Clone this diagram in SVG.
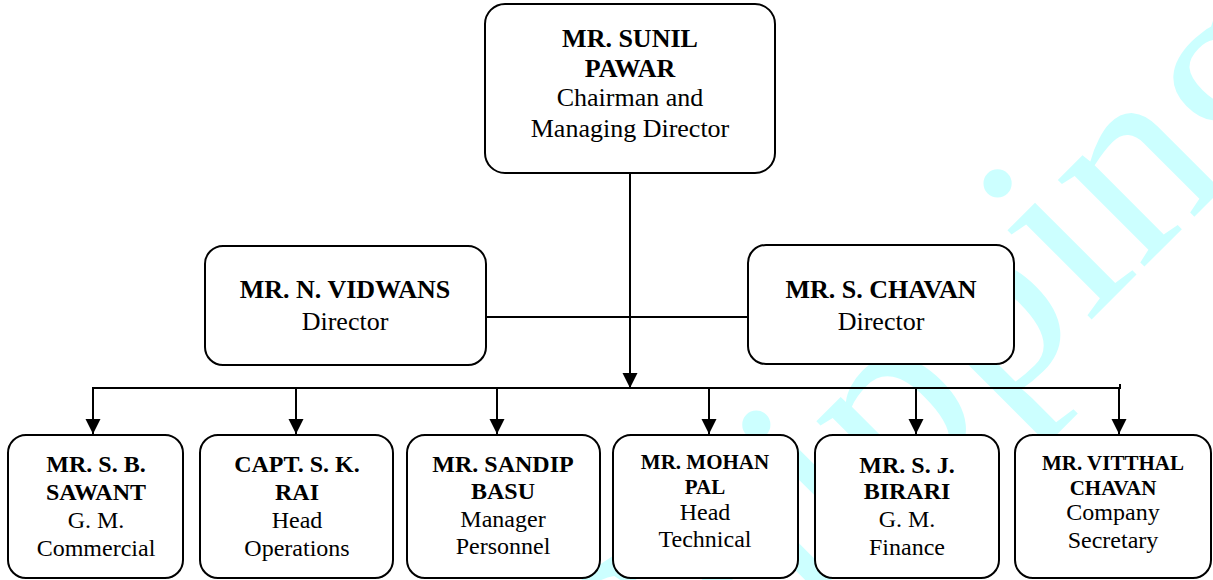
<svg xmlns="http://www.w3.org/2000/svg" width="1213" height="580" viewBox="0 0 1213 580">
<defs>
<marker id="arr" markerUnits="userSpaceOnUse" markerWidth="16" markerHeight="16" viewBox="0 0 16 16" refX="15" refY="8" orient="auto">
<path d="M0,0.5 L15,8 L0,15.5 Z" fill="#000"/>
</marker>
</defs>
<style>
.box{fill:#fff;stroke:#000;stroke-width:2}
.ln{fill:none;stroke:#000;stroke-width:2}
text{font-family:"Liberation Serif","Times New Roman",serif;text-anchor:middle;fill:#000}
.b{font-weight:bold}
.t26{font-size:26px}
.t24{font-size:24px}
.t21{font-size:21px}
.wm{font-family:"Liberation Serif",serif;font-size:267px;fill:#CCFFFF;text-anchor:start}
</style>
<rect width="1213" height="580" fill="#fff"/>
<text class="wm" transform="translate(647,764) rotate(-45)">Shipping</text>
<g id="connectors">
<line class="ln" x1="486" y1="317" x2="748" y2="317"/>
<line class="ln" x1="630" y1="173" x2="630" y2="388" marker-end="url(#arr)"/>
<line class="ln" x1="92" y1="388" x2="1121" y2="388"/>
<line class="ln" x1="1120" y1="384" x2="1120" y2="388"/>
<line class="ln" x1="93" y1="388" x2="93" y2="434" marker-end="url(#arr)"/>
<line class="ln" x1="296" y1="388" x2="296" y2="434" marker-end="url(#arr)"/>
<line class="ln" x1="497" y1="388" x2="497" y2="434" marker-end="url(#arr)"/>
<line class="ln" x1="709" y1="388" x2="709" y2="434" marker-end="url(#arr)"/>
<line class="ln" x1="916" y1="388" x2="916" y2="434" marker-end="url(#arr)"/>
<line class="ln" x1="1119" y1="388" x2="1119" y2="434" marker-end="url(#arr)"/>
</g>
<g id="pawar">
<rect class="box" x="485" y="4" width="290" height="169" rx="20"/>
<text class="b t26" x="630" y="47">MR. SUNIL</text>
<text class="b t26" x="630" y="77">PAWAR</text>
<text class="t26" x="630" y="106">Chairman and</text>
<text class="t26" x="630" y="137">Managing Director</text>
</g>
<g id="vidwans">
<rect class="box" x="205" y="246" width="281" height="119" rx="18"/>
<text class="b t26" x="345" y="298">MR. N. VIDWANS</text>
<text class="t26" x="345" y="330">Director</text>
</g>
<g id="schavan">
<rect class="box" x="748" y="245" width="266" height="119" rx="18"/>
<text class="b t26" x="881" y="298">MR. S. CHAVAN</text>
<text class="t26" x="881" y="330">Director</text>
</g>
<g id="sawant">
<rect class="box" x="8" y="435" width="175" height="143" rx="18"/>
<text class="b t24" x="96" y="472">MR. S. B.</text>
<text class="b t24" x="96" y="500">SAWANT</text>
<text class="t24" x="96" y="528">G. M.</text>
<text class="t24" x="96" y="556">Commercial</text>
</g>
<g id="rai">
<rect class="box" x="200" y="435" width="193" height="143" rx="18"/>
<text class="b t24" x="297" y="472">CAPT. S. K.</text>
<text class="b t24" x="297" y="500">RAI</text>
<text class="t24" x="297" y="528">Head</text>
<text class="t24" x="297" y="556">Operations</text>
</g>
<g id="basu">
<rect class="box" x="407" y="435" width="193" height="143" rx="18"/>
<text class="b t24" x="503" y="472">MR. SANDIP</text>
<text class="b t24" x="503" y="499">BASU</text>
<text class="t24" x="503" y="527">Manager</text>
<text class="t24" x="503" y="554">Personnel</text>
</g>
<g id="pal">
<rect class="box" x="613" y="435" width="185" height="143" rx="18"/>
<text class="b t21" x="705" y="469">MR. MOHAN</text>
<text class="b t21" x="705" y="494">PAL</text>
<text class="t24" x="705" y="520">Head</text>
<text class="t24" x="705" y="547">Technical</text>
</g>
<g id="birari">
<rect class="box" x="815" y="435" width="184" height="143" rx="18"/>
<text class="b t24" x="907" y="473">MR. S. J.</text>
<text class="b t24" x="907" y="499">BIRARI</text>
<text class="t24" x="907" y="527">G. M.</text>
<text class="t24" x="907" y="555">Finance</text>
</g>
<g id="vchavan">
<rect class="box" x="1015" y="435" width="196" height="143" rx="18"/>
<text class="b t21" x="1113" y="470">MR. VITTHAL</text>
<text class="b t21" x="1113" y="495">CHAVAN</text>
<text class="t24" x="1113" y="520">Company</text>
<text class="t24" x="1113" y="548">Secretary</text>
</g>
</svg>
